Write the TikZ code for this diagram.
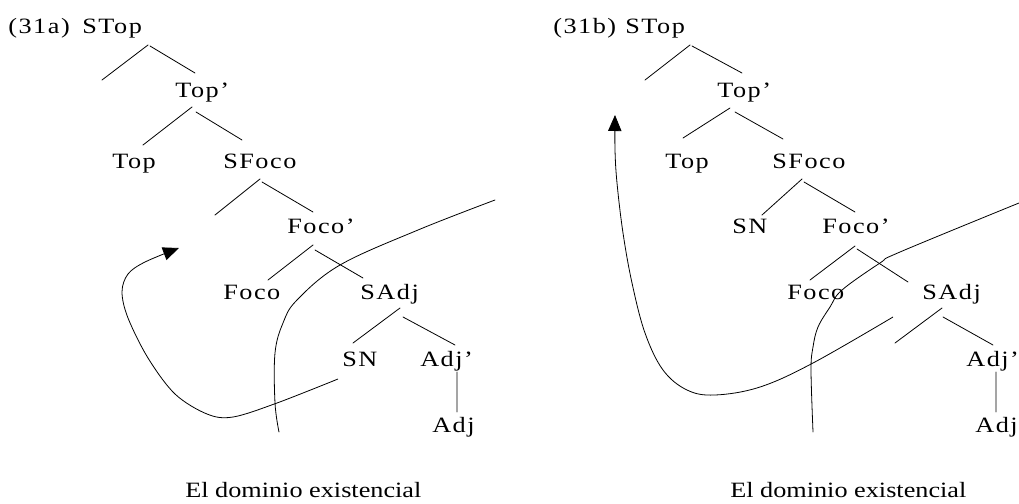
\documentclass[tikz,border=0pt]{standalone}
\usepackage{fontspec}
\setmainfont[FakeStretch=1.2]{Liberation Serif}
\newfontfamily\treefont[FakeStretch=1.2,LetterSpace=7]{Liberation Serif}
\usetikzlibrary{arrows.meta}
\begin{document}
\begin{tikzpicture}[x=0.75pt,y=-0.75pt,
  lab/.style={anchor=base west,inner sep=0pt,font=\treefont\fontsize{16.4}{19}\selectfont},
  captext/.style={anchor=base west,inner sep=0pt,font=\rmfamily\fontsize{16.4}{19}\selectfont},
  br/.style={line width=0.6pt,line cap=round},
  mv/.style={line width=0.6pt,-{Triangle[length=12pt,width=10pt]}}]
\fill[white] (0,0) rectangle (1019,503);
\useasboundingbox (0,0) rectangle (1019,503);

% ---------- (31a) ----------
\node[lab] (al) at (8,34) {(31a)};
\node[lab] (astop) at (82,34) {STop};
\node[lab] (atopb) at (175,97) {Top’};
\node[lab] (atop) at (112,168) {Top};
\node[lab] (asfoco) at (223,168) {SFoco};
\node[lab] (afocob) at (287,233) {Foco’};
\node[lab] (afoco) at (223,299) {Foco};
\node[lab] (asadj) at (360,299) {SAdj};
\node[lab] (asn) at (342,366) {SN};
\node[lab] (aadjb) at (420,366) {Adj’};
\node[lab] (aadj) at (432,432) {Adj};
\node[captext] (acap) at (185,497) {El dominio existencial};

\coordinate (a1) at (148,45);  \coordinate (a2) at (102,80);
\coordinate (a3) at (150,46);  \coordinate (a4) at (195,73);
\coordinate (a5) at (192,107); \coordinate (a6) at (143,145);
\coordinate (a7) at (196,112); \coordinate (a8) at (242,140);
\coordinate (a9) at (260,179); \coordinate (a10) at (215,215);
\coordinate (a11) at (262,182); \coordinate (a12) at (313,212);
\coordinate (a13) at (313,245); \coordinate (a14) at (268,280);
\coordinate (a15) at (315,250); \coordinate (a16) at (363,278);
\coordinate (a17) at (400,308); \coordinate (a18) at (353,343);
\coordinate (a19) at (403,317); \coordinate (a20) at (455,345);
\coordinate (a21) at (457,372); \coordinate (a22) at (457,412);
\draw[br] (a1)--(a2) (a3)--(a4) (a5)--(a6) (a7)--(a8) (a9)--(a10) (a11)--(a12)
          (a13)--(a14) (a15)--(a16) (a17)--(a18) (a19)--(a20) (a21)--(a22);

\draw[mv] plot[smooth,tension=0.55] coordinates {(338,379) (277,403) (233,417) (207,414) (175,394) (148,358) (128,318) (122,292) (128,274) (145,262) (179,248)};
\draw[br] plot[smooth,tension=0.6] coordinates {(495,200) (418,230) (340,265) (297,300) (283,323) (275,353) (275,403) (279,432)};

% ---------- (31b) ----------
\node[lab] (bl) at (553,34) {(31b)};
\node[lab] (bstop) at (625,34) {STop};
\node[lab] (btopb) at (717,97) {Top’};
\node[lab] (btop) at (665,168) {Top};
\node[lab] (bsfoco) at (772,168) {SFoco};
\node[lab] (bsn) at (732,233) {SN};
\node[lab] (bfocob) at (822,233) {Foco’};
\node[lab] (bfoco) at (787,299) {Foco};
\node[lab] (bsadj) at (922,299) {SAdj};
\node[lab] (badjb) at (966,366) {Adj’};
\node[lab] (badj) at (975,432) {Adj};
\node[captext] (bcap) at (730,497) {El dominio existencial};

\coordinate (b1) at (690,45);  \coordinate (b2) at (645,80);
\coordinate (b3) at (692,46);  \coordinate (b4) at (742,73);
\coordinate (b5) at (730,108); \coordinate (b6) at (683,138);
\coordinate (b7) at (735,112); \coordinate (b8) at (783,139);
\coordinate (b9) at (802,179); \coordinate (b10) at (762,215);
\coordinate (b11) at (804,182); \coordinate (b12) at (855,212);
\coordinate (b13) at (855,246); \coordinate (b14) at (810,280);
\coordinate (b15) at (857,249); \coordinate (b16) at (908,282);
\coordinate (b17) at (942,308); \coordinate (b18) at (895,343);
\coordinate (b19) at (943,317); \coordinate (b20) at (993,345);
\coordinate (b21) at (996,372); \coordinate (b22) at (996,412);
\draw[br] (b1)--(b2) (b3)--(b4) (b5)--(b6) (b7)--(b8) (b9)--(b10) (b11)--(b12)
          (b13)--(b14) (b15)--(b16) (b17)--(b18) (b19)--(b20) (b21)--(b22);

\draw[mv] plot[smooth,tension=0.6] coordinates {(893,317) (813,363) (760,387) (715,395) (687,390) (663,370) (645,333) (632,283) (623,233) (617,183) (615,150) (615,115)};
\draw[br] plot[smooth,tension=0.6] coordinates {(1019,203) (900,252) (880,263) (842,290) (830,307) (818,327) (813,347) (811,370) (813,432)};
\end{tikzpicture}
\end{document}
